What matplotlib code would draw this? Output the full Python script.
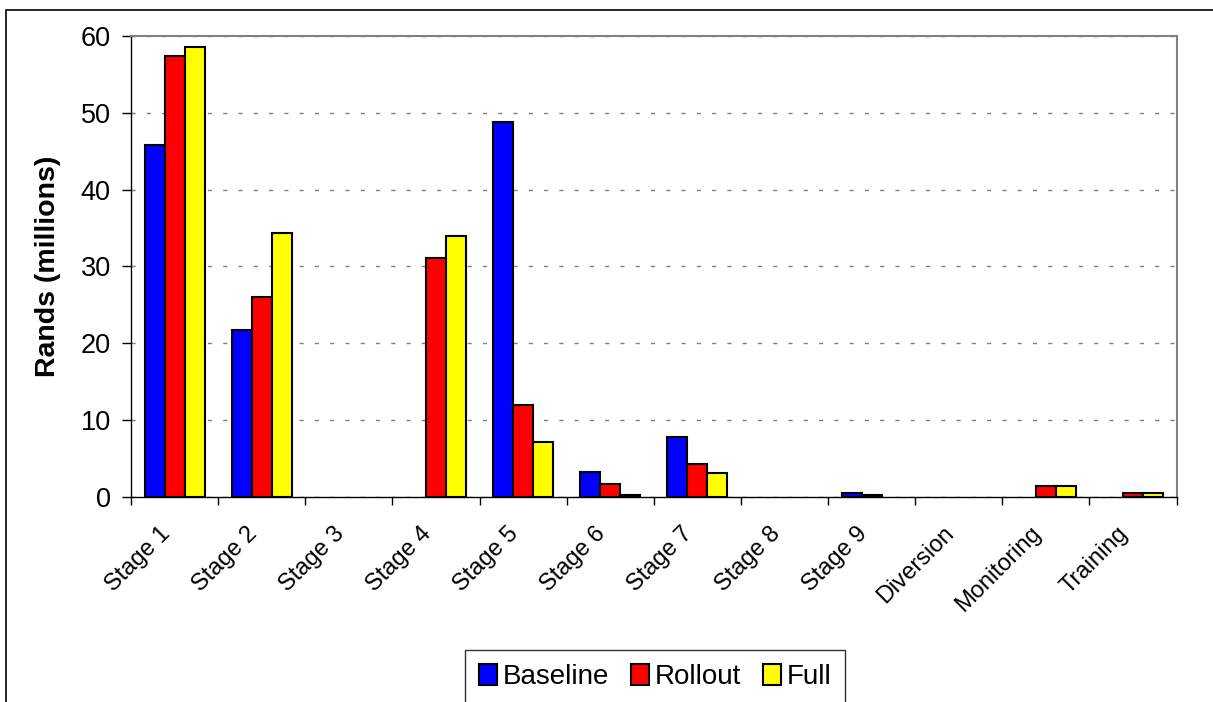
import numpy as np
import matplotlib.pyplot as plt
from matplotlib.patches import Rectangle
from matplotlib.transforms import ScaledTranslation

plt.rcParams['font.family'] = ['Liberation Sans', 'DejaVu Sans']

kategorie = ["Stage 1", "Stage 2", "Stage 3", "Stage 4", "Stage 5", "Stage 6",
             "Stage 7", "Stage 8", "Stage 9", "Diversion", "Monitoring", "Training"]
baseline = [45.8, 21.7, 0, 0, 48.8, 3.2, 7.8, 0, 0.55, 0, 0, 0]
rollout = [57.4, 26.0, 0, 31.1, 12.0, 1.7, 4.3, 0, 0.3, 0, 1.4, 0.55]
full = [58.6, 34.3, 0, 34.0, 7.1, 0.3, 3.1, 0, 0, 0, 1.4, 0.55]

fig = plt.figure(figsize=(12.13, 7.02), dpi=100)
ax = fig.add_axes([0.108, 0.292, 0.862, 0.657])

# ramecek kolem celeho grafu
fig.patches.append(Rectangle((6 / 1213, -0.01), 1.2, 1 - 10 / 702 + 0.01,
                             transform=fig.transFigure, fill=False,
                             edgecolor='black', linewidth=1.2))

x = np.arange(len(kategorie))
w = 0.23

def okraje(hodnoty):
    # nulove sloupce se nekresli (jako v Excelu)
    return ['black' if v > 0 else 'none' for v in hodnoty]

ax.bar(x - w, baseline, w, color='#0000ff', edgecolor=okraje(baseline), linewidth=1.5, label='Baseline', zorder=3)
ax.bar(x, rollout, w, color='#ff0000', edgecolor=okraje(rollout), linewidth=1.5, label='Rollout', zorder=3)
ax.bar(x + w, full, w, color='#ffff00', edgecolor=okraje(full), linewidth=1.5, label='Full', zorder=3)

ax.set_xlim(-0.5, len(kategorie) - 0.5)
ax.set_ylim(0, 60)
ax.set_yticks(range(0, 61, 10))
ax.tick_params(axis='y', labelsize=19.5, direction='out', length=6.5, width=1, pad=8)
ax.yaxis.grid(True, linestyle=(0, (3, 8)), color='gray', linewidth=1, zorder=0)

ax.set_xticks(x)
ax.set_xticklabels(kategorie, rotation=45, ha='right', va='center', rotation_mode='anchor', fontsize=17)
ax.tick_params(axis='x', length=0, pad=24)
posun = ScaledTranslation(-0.08, 0, fig.dpi_scale_trans)
for lab in ax.get_xticklabels():
    lab.set_transform(lab.get_transform() + posun)
ax.set_xticks(np.arange(-0.5, len(kategorie), 1), minor=True)
ax.tick_params(axis='x', which='minor', length=6, width=1, direction='out')

ax.set_ylabel('Rands (millions)', fontsize=20.5, fontweight='bold', labelpad=14)

for s in ['top', 'right']:
    ax.spines[s].set_color('gray')
    ax.spines[s].set_linewidth(1.5)
for s in ['left', 'bottom']:
    ax.spines[s].set_color('black')
    ax.spines[s].set_linewidth(1)

leg = ax.legend(loc='lower center', bbox_to_anchor=(0.540, -0.003), bbox_transform=fig.transFigure,
                ncol=3, fontsize=20, frameon=True, fancybox=False, edgecolor='black',
                handlelength=0.65, handleheight=0.8, handletextpad=0.2, columnspacing=0.8,
                borderpad=0.5, borderaxespad=0)
leg.get_frame().set_linewidth(1)

plt.savefig('out.png', dpi=100)
